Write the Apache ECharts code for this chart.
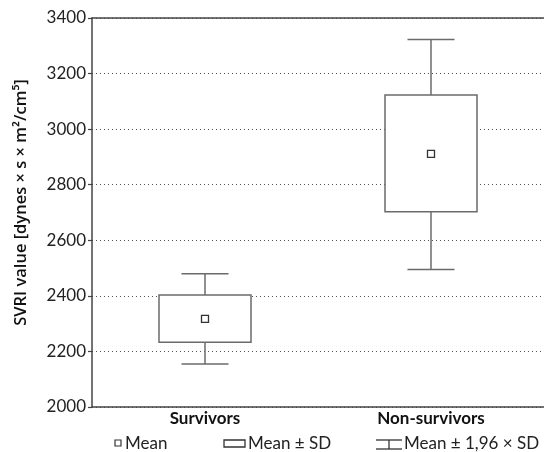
<!DOCTYPE html>
<html>
<head>
<meta charset="utf-8">
<script src="https://cdn.jsdelivr.net/npm/echarts@6/dist/echarts.min.js"></script>
<style>html,body{margin:0;padding:0;background:#fff}#c{width:544px;height:452px}</style>
</head>
<body>
<div id="c"></div>
<script>
const groups = ['Survivors', 'Non-survivors'];
const means  = [2317, 2911];
const sdLow  = [2233, 2703];
const sdHigh = [2403, 3123];
const ciLow  = [2155, 2495];
const ciHigh = [2480, 3323];
const yTicks = {min: 2000, max: 3400, step: 200};

const FONT = 'Lato, "Open Sans", sans-serif';
const INK = '#444';
const BOX = '#6b6b6b';

const rows = groups.map((g,i)=>[i, ciLow[i], sdLow[i], means[i], sdHigh[i], ciHigh[i]]);

function renderBox(params, api){
  const i = api.value(0);
  const x = api.coord([i, 0])[0];
  const yCiL = api.coord([i, api.value(1)])[1];
  const ySdL = api.coord([i, api.value(2)])[1];
  const yM   = api.coord([i, api.value(3)])[1];
  const ySdH = api.coord([i, api.value(4)])[1];
  const yCiH = api.coord([i, api.value(5)])[1];
  const bw = 92, cw = 47, ms = 7;
  const st = {stroke: BOX, lineWidth: 1.5, fill: 'none'};
  return {type:'group', children:[
    {type:'line', shape:{x1:x, y1:yCiH, x2:x, y2:ySdH}, style:st},
    {type:'line', shape:{x1:x, y1:ySdL, x2:x, y2:yCiL}, style:st},
    {type:'line', shape:{x1:x-cw/2, y1:yCiH, x2:x+cw/2, y2:yCiH}, style:st},
    {type:'line', shape:{x1:x-cw/2, y1:yCiL, x2:x+cw/2, y2:yCiL}, style:st},
    {type:'rect', shape:{x:x-bw/2, y:ySdH, width:bw, height:ySdL-ySdH}, style:{stroke:BOX, lineWidth:1.5, fill:'#fff'}},
    {type:'rect', shape:{x:x-ms/2, y:yM-ms/2, width:ms, height:ms}, style:{stroke:'#333', lineWidth:1.3, fill:'#fff'}}
  ]};
}

const chart = echarts.init(document.getElementById('c'), null, {renderer:'canvas'});
const legY = 444;
const legText = (x, t)=>({type:'text', x:x, y:legY, style:{text:t, font:'17px '+FONT, fill:'#222', verticalAlign:'middle', align:'left'}});
const ln = (x1,y1,x2,y2)=>({type:'line', shape:{x1,y1,x2,y2}, style:{stroke:'#333', lineWidth:1.3}});
chart.setOption({
  animation: false,
  grid: {left: 92, width: 458, top: 18, bottom: 45},
  xAxis: [
    {type:'category', data: groups, position:'bottom',
     axisLine:{lineStyle:{color:INK, width:1.5}},
     axisTick:{inside:true, alignWithLabel:true, length:5, lineStyle:{color:INK, width:1.2}},
     axisLabel:{color:'#111', fontFamily:FONT, fontSize:17, fontWeight:'bold', margin:3}},
    {type:'category', data: groups, position:'top',
     axisLine:{lineStyle:{color:INK, width:1.5}},
     axisTick:{inside:true, alignWithLabel:true, length:4, lineStyle:{color:INK, width:1.2}},
     axisLabel:{show:false}}
  ],
  yAxis: {type:'value', min:yTicks.min, max:yTicks.max, interval:yTicks.step,
    name:'SVRI value [dynes × s × m²/cm⁵]', nameLocation:'middle', nameGap:62,
    nameTextStyle:{color:'#111', fontFamily:'"Open Sans", sans-serif', fontSize:16.5, fontWeight:600, padding:[0,0,0,20]},
    axisLine:{show:true, lineStyle:{color:INK, width:1.5}},
    axisTick:{show:true, length:4, lineStyle:{color:INK, width:1.2}},
    axisLabel:{color:'#222', fontFamily:FONT, fontSize:17, margin:6, formatter: v=>String(v)},
    splitLine:{show:true, lineStyle:{color:'#555', width:1, type:[1,3]}}},
  graphic: [
    {type:'rect', shape:{x:115, y:440, width:6, height:6}, style:{stroke:'#333', lineWidth:1.2, fill:'#fff'}},
    legText(125, 'Mean'),
    {type:'rect', shape:{x:224, y:440, width:21, height:7}, style:{stroke:'#333', lineWidth:1.3, fill:'#fff'}},
    legText(248, 'Mean ± SD'),
    ln(376,440,402,440), ln(376,449,402,449), ln(389,440,389,449),
    legText(404, 'Mean ± 1,96 × SD')
  ],
  series: [{type:'custom', renderItem: renderBox, data: rows, encode:{x:0, y:[1,2,3,4,5]}, z:3}]
});
</script>
</body>
</html>
